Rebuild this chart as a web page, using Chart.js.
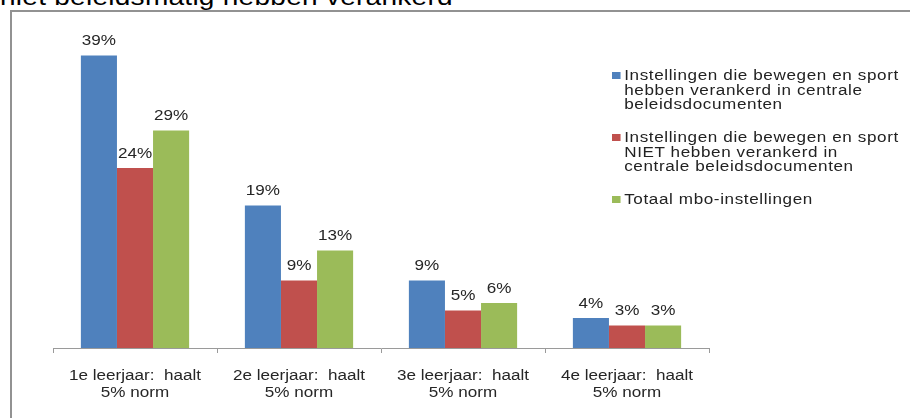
<!DOCTYPE html>
<html>
<head>
<meta charset="utf-8">
<script src="https://cdn.jsdelivr.net/npm/chart.js@4"></script>
<style>
  body { margin: 0; background: #fff; font-family: "Liberation Sans", Arial, sans-serif; }
  #wrap { position: relative; width: 910px; height: 418px; overflow: hidden; }
  #title { position: absolute; left: 0; top: -16px; font-size: 23px; color: #000; white-space: nowrap; letter-spacing: 0.2px; transform: scaleX(1.22); transform-origin: 0 0; }
  #frame { position: absolute; left: 10px; top: 10px; width: 930px; height: 430px; border: 2px solid #929292; box-sizing: border-box; }
  #chart { position: absolute; left: 0; top: 0; }
  #legend { position: absolute; left: 612px; top: 68px; font-size: 14px; color: #222; letter-spacing: 0.5px; transform: scaleX(1.22); transform-origin: 0 0; }
  .item { position: relative; padding-left: 10px; line-height: 14.5px; margin-bottom: 18.5px; white-space: nowrap; }
  .item span { position: absolute; left: 0; top: 4px; width: 7px; height: 7px; }
</style>
</head>
<body>
<div id="wrap">
  <div id="title">niet beleidsmatig hebben verankerd</div>
  <div id="frame"></div>
  <canvas id="chart" width="910" height="418"></canvas>
  <div id="legend"></div>
</div>
<script>
const categories = [
  ["1e leerjaar:  haalt", "5% norm"],
  ["2e leerjaar:  haalt", "5% norm"],
  ["3e leerjaar:  haalt", "5% norm"],
  ["4e leerjaar:  haalt", "5% norm"]
];
const seriesNames = [
  ["Instellingen die bewegen en sport", "hebben verankerd in centrale", "beleidsdocumenten"],
  ["Instellingen die bewegen en sport", "NIET hebben verankerd in", "centrale beleidsdocumenten"],
  ["Totaal mbo-instellingen"]
];
const verankerd = [39, 19, 9, 4];
const nietVerankerd = [24, 9, 5, 3];
const totaal = [29, 13, 6, 3];
const colors = ["#4F81BD", "#C0504D", "#9BBB59"];

const seriesValues = [verankerd, nietVerankerd, totaal];
const FONT = "14px 'Liberation Sans', Arial, sans-serif";
const STRETCH = 1.22;

function wideText(c, txt, x, y) {
  c.save();
  c.translate(x, y);
  c.scale(STRETCH, 1);
  c.fillText(txt, 0, 0);
  c.restore();
}

// value labels above bars + category labels under the axis
const textPlugin = {
  id: "textPlugin",
  afterDraw(chart) {
    const c = chart.ctx;
    c.save();
    c.font = FONT;
    c.fillStyle = "#262626";
    c.textAlign = "center";
    c.textBaseline = "alphabetic";
    chart.data.datasets.forEach((ds, i) => {
      chart.getDatasetMeta(i).data.forEach((bar, j) => {
        wideText(c, ds.data[j] + "%", bar.x, bar.y - 10.5);
      });
    });
    const xs = chart.scales.x;
    chart.data.labels.forEach((lines, i) => {
      const x = xs.getPixelForTick(i);
      lines.forEach((ln, k) => wideText(c, ln, x, xs.top + 32 + k * 16.5));
    });
    c.restore();
  }
};

new Chart(document.getElementById("chart"), {
  type: "bar",
  data: {
    labels: categories,
    datasets: seriesValues.map((vals, i) => ({
      label: seriesNames[i].join(" "),
      data: vals,
      backgroundColor: colors[i],
      barPercentage: 1,
      categoryPercentage: 0.66
    }))
  },
  options: {
    responsive: false,
    animation: false,
    layout: { padding: { left: 53, right: 201, top: 48, bottom: 0 } },
    plugins: { legend: { display: false }, tooltip: { enabled: false } },
    scales: {
      y: { display: false, min: 0, max: 40 },
      x: {
        afterFit(scale) { scale.height = 70; },
        border: { color: "#9a9a9a", width: 1 },
        grid: { display: true, drawOnChartArea: false, offset: true, color: "#9a9a9a", tickLength: 5 },
        ticks: { display: false }
      }
    }
  },
  plugins: [textPlugin]
});

const legend = document.getElementById("legend");
seriesNames.forEach((lines, i) => {
  const d = document.createElement("div");
  d.className = "item";
  d.innerHTML = '<span style="background:' + colors[i] + '"></span>' + lines.join("<br>");
  legend.appendChild(d);
});
</script>
</body>
</html>
